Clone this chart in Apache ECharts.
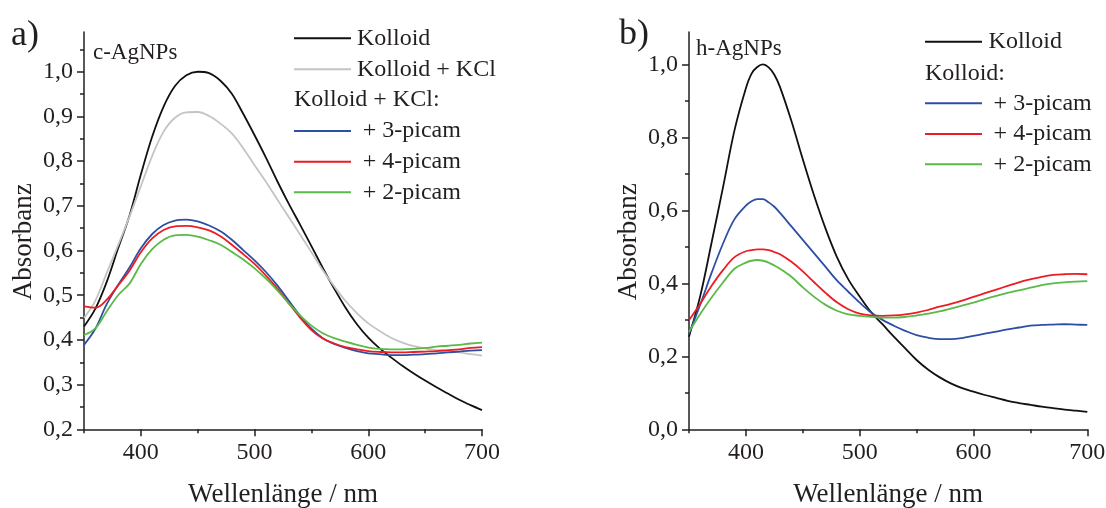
<!DOCTYPE html>
<html><head><meta charset="utf-8">
<script src="https://cdn.jsdelivr.net/npm/echarts@6/dist/echarts.min.js"></script>
<style>html,body{margin:0;padding:0;background:#fff}#c{width:1106px;height:508px}</style>
</head><body><div id="c"></div>
<script>
// ---------- Panel a) c-AgNPs ----------
const wavelengthsA = [350,360,370,380,390,400,410,420,430,440,450,460,470,480,490,500,510,520,530,540,550,560,570,580,590,600,610,620,630,640,650,660,670,680,690,700];
const aKolloid = [0.430,0.470,0.530,0.605,0.678,0.770,0.855,0.922,0.968,0.992,1.000,0.997,0.980,0.951,0.906,0.858,0.808,0.755,0.705,0.658,0.610,0.561,0.515,0.472,0.435,0.405,0.381,0.361,0.342,0.325,0.309,0.294,0.280,0.266,0.254,0.243];
const aKolloidKCl = [0.449,0.488,0.550,0.612,0.676,0.744,0.812,0.866,0.897,0.909,0.910,0.901,0.884,0.862,0.829,0.791,0.754,0.714,0.675,0.636,0.596,0.556,0.520,0.487,0.460,0.437,0.420,0.405,0.394,0.386,0.381,0.377,0.375,0.372,0.368,0.365];
const a3picam = [0.389,0.425,0.480,0.523,0.562,0.605,0.637,0.657,0.667,0.669,0.665,0.656,0.643,0.624,0.601,0.578,0.552,0.522,0.488,0.454,0.425,0.404,0.391,0.382,0.375,0.370,0.368,0.366,0.366,0.367,0.368,0.370,0.372,0.374,0.376,0.377];
const a4picam = [0.475,0.472,0.490,0.522,0.555,0.596,0.627,0.646,0.654,0.655,0.652,0.645,0.632,0.613,0.592,0.570,0.544,0.515,0.482,0.450,0.422,0.403,0.392,0.384,0.379,0.375,0.373,0.372,0.372,0.373,0.374,0.375,0.377,0.379,0.382,0.384];
const a2picam = [0.411,0.426,0.464,0.500,0.526,0.570,0.603,0.624,0.634,0.635,0.631,0.623,0.613,0.597,0.580,0.560,0.537,0.511,0.482,0.455,0.432,0.415,0.404,0.396,0.389,0.383,0.380,0.379,0.379,0.380,0.382,0.385,0.387,0.389,0.392,0.394];

// ---------- Panel b) h-AgNPs ----------
const wavelengthsB = [350,360,370,380,390,400,405,410,415,420,425,430,440,450,460,470,480,490,500,510,520,530,540,550,560,570,580,590,600,610,620,630,640,650,660,670,680,690,700];
const bKolloid = [0.254,0.367,0.514,0.665,0.820,0.935,0.975,0.993,1.000,0.992,0.972,0.938,0.845,0.740,0.640,0.550,0.472,0.411,0.364,0.321,0.288,0.254,0.222,0.190,0.164,0.143,0.126,0.113,0.103,0.094,0.086,0.078,0.072,0.067,0.062,0.058,0.054,0.051,0.048];
const b3picam = [0.262,0.343,0.430,0.510,0.576,0.613,0.625,0.631,0.631,0.622,0.610,0.593,0.556,0.519,0.482,0.445,0.408,0.377,0.347,0.320,0.300,0.284,0.270,0.258,0.251,0.247,0.247,0.250,0.256,0.262,0.268,0.274,0.279,0.284,0.286,0.287,0.288,0.287,0.286];
const b4picam = [0.299,0.345,0.394,0.437,0.472,0.488,0.491,0.493,0.493,0.491,0.486,0.480,0.459,0.433,0.403,0.374,0.348,0.329,0.317,0.312,0.311,0.312,0.315,0.320,0.327,0.336,0.344,0.353,0.363,0.373,0.383,0.393,0.403,0.411,0.418,0.423,0.425,0.426,0.425];
const b2picam = [0.267,0.317,0.362,0.403,0.440,0.457,0.462,0.464,0.462,0.457,0.449,0.440,0.418,0.389,0.363,0.341,0.325,0.315,0.311,0.308,0.306,0.306,0.308,0.312,0.317,0.323,0.331,0.339,0.347,0.357,0.366,0.374,0.381,0.388,0.395,0.400,0.403,0.405,0.406];

// ---------- Tick values ----------
const xMajorTicks = [400,500,600,700];
const xMinorTicks = [350,450,550,650];
const yMajorTicksA = [0.2,0.3,0.4,0.5,0.6,0.7,0.8,0.9,1.0];
const yMinorTicksA = [0.25,0.35,0.45,0.55,0.65,0.75,0.85,0.95,1.05];
const yMajorTicksB = [0.0,0.2,0.4,0.6,0.8,1.0];
const yMinorTicksB = [0.1,0.3,0.5,0.7,0.9];

const FONT = "'Liberation Serif','Times New Roman',serif";
const INK = '#231f20';
const COL = {kolloid:'#111111', kcl:'#c4c4c4', p3:'#2d4fa3', p4:'#ec1c24', p2:'#5bb947'};

const fmt = v => Number(v).toFixed(1).replace('.', ',');

function xAxes(grid){
  return [
    {type:'value', gridIndex:grid, min:350, max:700, position:'bottom',
     name:'Wellenlänge / nm', nameLocation:'middle', nameGap:52,
     nameTextStyle:{fontFamily:FONT, fontSize:27, color:INK},
     axisLine:{show:true, lineStyle:{color:INK, width:1.5}},
     axisTick:{show:true, customValues:xMajorTicks, length:7, lineStyle:{color:INK, width:1.5}},
     axisLabel:{show:true, customValues:xMajorTicks, margin:11, fontFamily:FONT, fontSize:24, color:INK},
     splitLine:{show:false}},
    {type:'value', gridIndex:grid, min:350, max:700, position:'bottom', offset:0,
     axisLine:{show:false},
     axisTick:{show:true, customValues:xMinorTicks, length:4, lineStyle:{color:INK, width:1.5}},
     axisLabel:{show:false}, splitLine:{show:false}}
  ];
}
function yAxes(grid, min, major, minor){
  return [
    {type:'value', gridIndex:grid, min:min, max:1.089, position:'left',
     name:'Absorbanz', nameLocation:'middle', nameGap:47, nameRotate:90,
     nameTextStyle:{fontFamily:FONT, fontSize:27, color:INK, padding:[0,22,0,0]},
     axisLine:{show:true, onZero:false, lineStyle:{color:INK, width:1.5}},
     axisTick:{show:true, customValues:major, length:7, lineStyle:{color:INK, width:1.5}},
     axisLabel:{show:true, customValues:major, margin:11, formatter:fmt, fontFamily:FONT, fontSize:24, color:INK},
     splitLine:{show:false}},
    {type:'value', gridIndex:grid, min:min, max:1.089, position:'left', offset:0,
     axisLine:{show:false},
     axisTick:{show:true, customValues:minor, length:4, lineStyle:{color:INK, width:1.5}},
     axisLabel:{show:false}, splitLine:{show:false}}
  ];
}
function line(name, xs, ys, color, xi, yi){
  return {type:'line', name:name, xAxisIndex:xi, yAxisIndex:yi, smooth:0.35, symbol:'none',
    lineStyle:{color:color, width:1.8}, itemStyle:{color:color},
    data: xs.map((x,i)=>[x, ys[i]]), silent:true};
}
function leg(name, left, cy, gap){
  return {data:[name], left:left, top:cy-12, padding:0, selectedMode:false,
    icon:'rect', itemWidth:57, itemHeight:2,
    textStyle:{fontFamily:FONT, fontSize:24, color:INK, lineHeight:24, padding:[0,0,0,gap-5]}};
}
function txt(s, x, y, size){
  return {type:'text', left:x, top:y, style:{text:s, font:size+'px '+FONT, fill:INK}};
}

const option = {
  animation:false,
  backgroundColor:'#fff',
  grid:[
    {left:84, top:32, width:398, height:397.3, containLabel:false, outerBoundsMode:'none'},
    {left:689, top:32, width:398.3, height:397.3, containLabel:false, outerBoundsMode:'none'}
  ],
  xAxis:[...xAxes(0), ...xAxes(1)],
  yAxis:[...yAxes(0, 0.2, yMajorTicksA, yMinorTicksA), ...yAxes(1, 0.0, yMajorTicksB, yMinorTicksB)],
  series:[
    line('Kolloid', wavelengthsA, aKolloid, COL.kolloid, 0, 0),
    line('Kolloid + KCl', wavelengthsA, aKolloidKCl, COL.kcl, 0, 0),
    line('+ 3-picam', wavelengthsA, a3picam, COL.p3, 0, 0),
    line('+ 4-picam', wavelengthsA, a4picam, COL.p4, 0, 0),
    line('+ 2-picam', wavelengthsA, a2picam, COL.p2, 0, 0),
    line('Kolloid', wavelengthsB, bKolloid, COL.kolloid, 2, 2),
    line('+ 3-picam', wavelengthsB, b3picam, COL.p3, 2, 2),
    line('+ 4-picam', wavelengthsB, b4picam, COL.p4, 2, 2),
    line('+ 2-picam', wavelengthsB, b2picam, COL.p2, 2, 2)
  ],
  legend:[
    leg('Kolloid', 294, 38.3, 6),
    leg('Kolloid + KCl', 294, 69.3, 6),
    leg('+ 3-picam', 294, 131, 11.7),
    leg('+ 4-picam', 294, 161.7, 11.7),
    leg('+ 2-picam', 294, 192.3, 11.7),
    leg('Kolloid', 925, 41.7, 6.6),
    leg('+ 3-picam', 925, 103.3, 11.6),
    leg('+ 4-picam', 925, 134, 11.6),
    leg('+ 2-picam', 925, 164.3, 11.6)
  ],
  graphic:[
    txt('a)', 11, 18, 36),
    txt('b)', 619, 17, 36),
    txt('c-AgNPs', 93, 41, 23),
    txt('h-AgNPs', 696, 37, 23),
    txt('Kolloid + KCl:', 294, 88, 24),
    txt('Kolloid:', 925, 62, 24)
  ]
};
const chart = echarts.init(document.getElementById('c'), null, {renderer:'canvas'});
chart.setOption(option);
</script>
</body></html>
